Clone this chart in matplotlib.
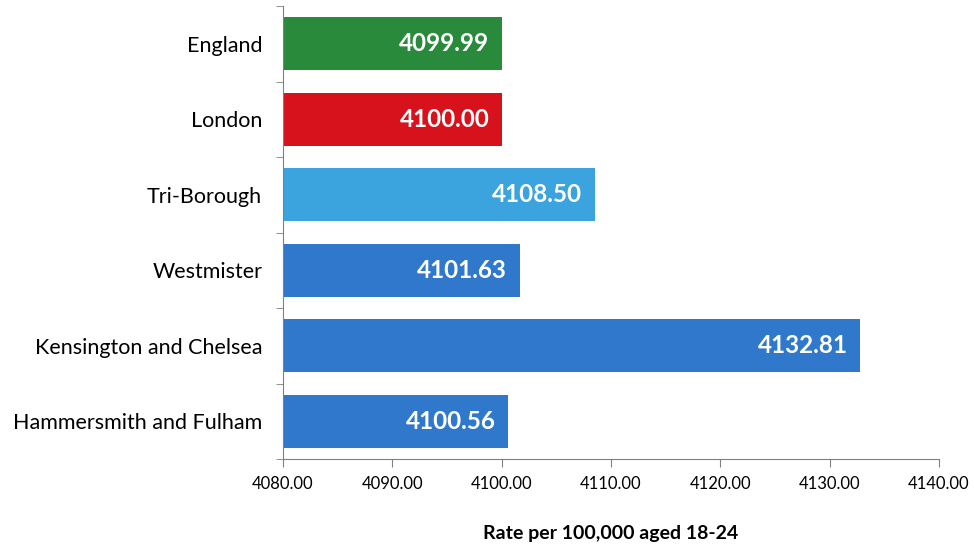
import matplotlib
matplotlib.use('Agg')
import matplotlib.pyplot as plt
from matplotlib.ticker import FixedLocator

# data
areas = ['England', 'London', 'Tri-Borough', 'Westmister',
         'Kensington and Chelsea', 'Hammersmith and Fulham']
rates = [4099.99, 4100.00, 4108.50, 4101.63, 4132.81, 4100.56]
bar_colors = ['#2a8a3c', '#d8121c', '#3ba3de', '#2f78cc', '#2f78cc', '#2f78cc']
x_ticks = [4080, 4090, 4100, 4110, 4120, 4130, 4140]

plt.rcParams['font.family'] = ['Lato', 'DejaVu Sans']

fig = plt.figure(figsize=(9.74, 5.48), dpi=100)
ax = fig.add_axes([0.2906, 0.1624, 0.6735, 0.8266])

ypos = list(range(len(areas)))
base = x_ticks[0]
ax.barh(ypos, [r - base for r in rates], left=base, height=0.70,
        color=bar_colors, zorder=2)

for y, r in zip(ypos, rates):
    ax.annotate(f'{r:.2f}', xy=(r, y), xytext=(-9, 0), textcoords='offset points',
                ha='right', va='center', color='white', fontsize=17.5,
                fontweight='bold')

ax.set_xlim(x_ticks[0], x_ticks[-1])
ax.set_ylim(len(areas) - 0.5, -0.5)
ax.xaxis.set_major_locator(FixedLocator(x_ticks))
ax.set_xticklabels([f'{t:.2f}' for t in x_ticks], fontsize=12)

ax.set_yticks(ypos)
ax.set_yticklabels(areas, fontsize=15.5)
ax.tick_params(axis='y', which='major', length=0, pad=15)
ax.yaxis.set_minor_locator(FixedLocator([i - 0.5 for i in range(len(areas) + 1)]))
ax.tick_params(axis='y', which='minor', length=5, color='#808080')
ax.tick_params(axis='x', length=6, color='#808080', pad=6)

for s in ['top', 'right']:
    ax.spines[s].set_visible(False)
ax.spines['left'].set_color('#808080')
ax.spines['bottom'].set_color('#808080')

ax.set_xlabel('Rate per 100,000 aged 18-24', fontsize=14, fontweight='bold', labelpad=24)

fig.savefig('out.png', dpi=100)
